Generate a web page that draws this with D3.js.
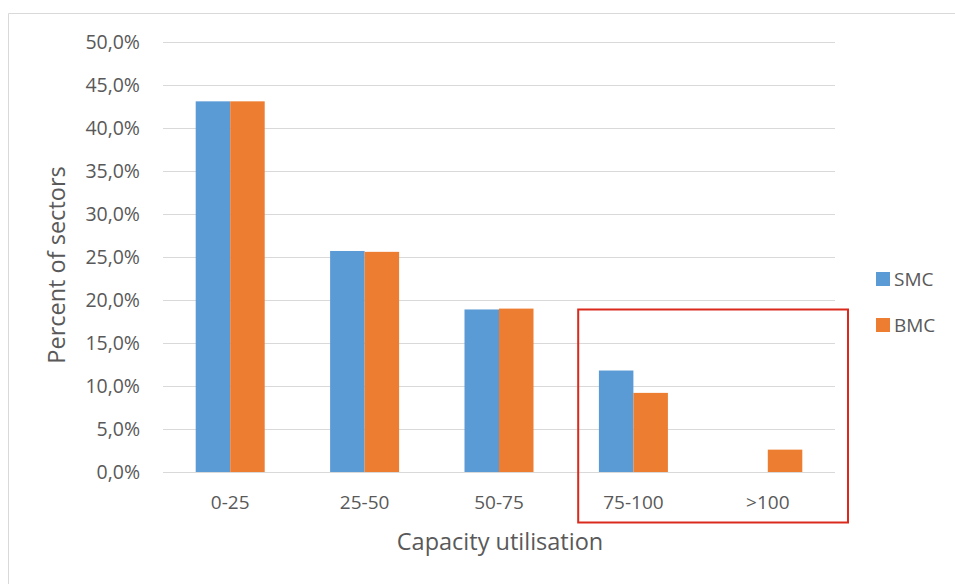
<!DOCTYPE html>
<html>
<head>
<meta charset="utf-8">
<script src="https://cdn.jsdelivr.net/npm/d3@7"></script>
<style>
  html, body { margin: 0; padding: 0; background: #fff; }
  svg { display: block; font-family: "Open Sans", "Noto Sans", sans-serif; }
</style>
</head>
<body>
<svg id="chart" width="955" height="584"></svg>
<script>
const categories = ["0-25", "25-50", "50-75", "75-100", ">100"];
const seriesNames = ["SMC", "BMC"];
const smcValues = [43.1, 25.7, 18.9, 11.8, null];
const bmcValues = [43.1, 25.6, 19.0, 9.2, 2.6];
const yTicks = [0, 5, 10, 15, 20, 25, 30, 35, 40, 45, 50];
const colors = ["#5b9bd5", "#ed7d31"];
const highlightCategories = ["75-100", ">100"];

const svg = d3.select("#chart");
const W = 955, H = 584;
const margin = { left: 163, right: 120, top: 42, bottom: 112 };
const plotW = W - margin.left - margin.right; // 672
const plotH = H - margin.top - margin.bottom; // 430

// Outer chart frame (top and left edges visible)
svg.append("path")
  .attr("d", `M8.5,${H} L8.5,13.5 L${W},13.5`)
  .attr("fill", "none").attr("stroke", "#d9d9d9").attr("stroke-width", 1);

const g = svg.append("g").attr("transform", `translate(${margin.left},${margin.top})`);

const x = d3.scaleBand().domain(categories).range([0, plotW]).paddingInner(0).paddingOuter(0);
const barW = 34.5;
const x1 = d3.scaleBand().domain(seriesNames).range([x.bandwidth() / 2 - barW, x.bandwidth() / 2 + barW]);
const y = d3.scaleLinear().domain([0, 50]).range([plotH, 0]);

// gridlines
g.append("g").selectAll("line").data(yTicks).join("line")
  .attr("x1", 0).attr("x2", plotW)
  .attr("y1", d => Math.round(y(d)) + 0.5).attr("y2", d => Math.round(y(d)) + 0.5)
  .attr("stroke", "#d9d9d9").attr("stroke-width", 1);

// y axis labels
const yAxis = d3.axisLeft(y).tickValues(yTicks).tickSize(0).tickPadding(23)
  .tickFormat(d => d3.format(".1f")(d).replace(".", ",") + "%");
const ya = g.append("g").call(yAxis);
ya.select(".domain").remove();
ya.selectAll("text").attr("fill", "#595959").style("font-size", "19.5px").style("font-family", "Open Sans, sans-serif");

// bars
const data = categories.map((c, i) => ({ cat: c, vals: [smcValues[i], bmcValues[i]] }));
const groups = g.append("g").selectAll("g").data(data).join("g")
  .attr("transform", d => `translate(${x(d.cat)},0)`);
groups.selectAll("rect").data(d => d.vals.map((v, j) => ({ v, s: seriesNames[j], j })).filter(e => e.v != null))
  .join("rect")
  .attr("x", e => x1(e.s))
  .attr("width", x1.bandwidth())
  .attr("y", e => y(e.v))
  .attr("height", e => y(0) - y(e.v))
  .attr("fill", e => colors[e.j]);

// x axis labels
const xAxis = d3.axisBottom(x).tickSize(0).tickPadding(24);
const xa = g.append("g").attr("transform", `translate(0,${plotH})`).call(xAxis);
xa.select(".domain").remove();
xa.selectAll("text").attr("fill", "#595959").style("font-size", "19px").style("font-family", "Open Sans, sans-serif");

// axis titles
svg.append("text")
  .attr("transform", `translate(65,265) rotate(-90)`)
  .attr("text-anchor", "middle")
  .attr("fill", "#595959").style("font-size", "23.5px")
  .text("Percent of sectors");
svg.append("text")
  .attr("x", 500).attr("y", 550)
  .attr("text-anchor", "middle")
  .attr("fill", "#595959").style("font-size", "23.5px")
  .text("Capacity utilisation");

// legend
const legend = svg.append("g").attr("transform", "translate(876,272)");
seriesNames.forEach((s, i) => {
  const lg = legend.append("g").attr("transform", `translate(0,${i * 46})`);
  lg.append("rect").attr("width", 14).attr("height", 14).attr("fill", colors[i]);
  lg.append("text").attr("x", 18).attr("y", 14).attr("fill", "#595959")
    .style("font-size", "19px").text(s);
});

// highlight box around the last two categories
const hLeft = margin.left + x(highlightCategories[0]) + 12;
const hRight = margin.left + x(highlightCategories[highlightCategories.length - 1]) + x.bandwidth() + 13;
svg.append("rect")
  .attr("x", hLeft)
  .attr("y", 309.5)
  .attr("width", hRight - hLeft)
  .attr("height", 213)
  .attr("fill", "none")
  .attr("stroke", "#d92a1c")
  .attr("stroke-width", 2);
</script>
</body>
</html>
